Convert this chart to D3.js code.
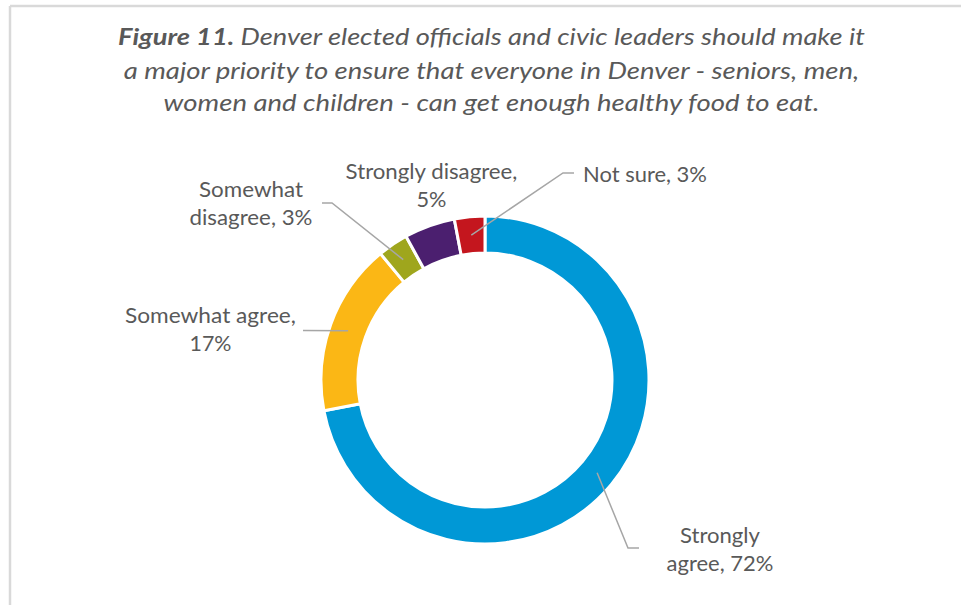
<!DOCTYPE html>
<html>
<head>
<meta charset="utf-8">
<script src="https://cdn.jsdelivr.net/npm/d3@7"></script>
<style>
  html, body { margin: 0; padding: 0; background: #ffffff; }
  svg { display: block; }
  text { font-family: Lato, "Open Sans", "Noto Sans", sans-serif; fill: #595959; }
</style>
</head>
<body>
<script>
// ---- Data ----
const categories = ["Strongly agree", "Somewhat agree", "Somewhat disagree", "Strongly disagree", "Not sure"];
const shares = [72, 17, 3, 5, 3];
const sliceColors = ["#0098d6", "#fbb715", "#9fa61d", "#4b1f6f", "#c4161e"];
const titleLead = "Figure 11.";
const titleLines = [
  " Denver elected officials and civic leaders should make it",
  "a major priority to ensure that everyone in Denver - seniors, men,",
  "women and children - can get enough healthy food to eat."
];

// ---- Layout ----
const W = 961, H = 605;
const cx = 485, cy = 380, outerR = 164, innerR = 127;

// where each label sits, how its text wraps, its fitted line widths and its leader elbow points
const labelLayout = [
  { x: 720,   y: 543, anchor: "middle", breakAfter: 1, widths: [80, 107],  leader: [[639, 548], [628, 548]] },
  { x: 210.5, y: 323, anchor: "middle", breakAfter: 2, widths: [171, 42],  leader: [[303, 330.5]] },
  { x: 251,   y: 197, anchor: "middle", breakAfter: 1, widths: [104, 123], leader: [[322, 203], [332, 203]] },
  { x: 431.5, y: 179, anchor: "middle", breakAfter: 2, widths: [172, 30],  leader: null },
  { x: 583,   y: 182, anchor: "start",  breakAfter: null, widths: [124],   leader: [[574, 173], [563, 173]] }
];
const labelLineGap = 28.5;

const svg = d3.select("body").append("svg")
  .attr("width", W).attr("height", H);

// panel frame (top and left edges visible)
svg.append("line").attr("x1", 10).attr("x2", W).attr("y1", 6).attr("y2", 6)
  .attr("stroke", "#d9d9d9").attr("stroke-width", 2.5);
svg.append("line").attr("x1", 10).attr("x2", 10).attr("y1", 6).attr("y2", H)
  .attr("stroke", "#d9d9d9").attr("stroke-width", 2.5);

// squeeze a text group horizontally so it spans the given width around its anchor
function fitWidth(textSel, target) {
  const node = textSel.node();
  const w = node.getComputedTextLength();
  if (w > 0) {
    const sx = target / w;
    const x = +textSel.attr("x");
    textSel.attr("transform", `translate(${x},0) scale(${sx},1) translate(${-x},0)`);
  }
}

// ---- Title ----
const titleCenter = 491.5;
const titleBaselines = [45.5, 79, 111.5];
const titleWidths = [747, 736, 656];
titleLines.forEach((line, i) => {
  const t = svg.append("text")
    .attr("x", titleCenter).attr("y", titleBaselines[i])
    .attr("text-anchor", "middle")
    .attr("font-size", 23)
    .attr("font-style", "italic");
  if (i === 0) {
    t.append("tspan").attr("font-weight", "bold").text(titleLead);
  }
  t.append("tspan").text(line);
  fitWidth(t, titleWidths[i]);
});

// ---- Donut ----
const pie = d3.pie().sort(null).value(d => d)
  .startAngle(0).endAngle(2 * Math.PI);
const arcs = pie(shares);
const arc = d3.arc().innerRadius(innerR).outerRadius(outerR);

const ring = svg.append("g").attr("transform", `translate(${cx},${cy})`);
ring.selectAll("path")
  .data(arcs)
  .join("path")
  .attr("d", arc)
  .attr("fill", (d, i) => sliceColors[i])
  .attr("stroke", "#ffffff")
  .attr("stroke-width", 3)
  .attr("stroke-linejoin", "miter");

// ---- Leader lines ----
const leaderLine = d3.line();
arcs.forEach((a, i) => {
  const lay = labelLayout[i];
  if (!lay.leader) return;
  const c = arc.centroid(a);
  const pts = lay.leader.concat([[cx + c[0], cy + c[1]]]);
  svg.append("path")
    .attr("d", leaderLine(pts))
    .attr("fill", "none")
    .attr("stroke", "#a6a6a6")
    .attr("stroke-width", 1.5);
});

// ---- Data labels ----
categories.forEach((cat, i) => {
  const lay = labelLayout[i];
  const words = `${cat}, ${shares[i]}%`.split(" ");
  const lines = lay.breakAfter == null
    ? [words.join(" ")]
    : [words.slice(0, lay.breakAfter).join(" "), words.slice(lay.breakAfter).join(" ")];
  lines.forEach((ln, j) => {
    const t = svg.append("text")
      .attr("x", lay.x)
      .attr("y", lay.y + j * labelLineGap)
      .attr("text-anchor", lay.anchor)
      .attr("font-size", 20.5)
      .text(ln);
    fitWidth(t, lay.widths[j]);
  });
});
</script>
</body>
</html>
